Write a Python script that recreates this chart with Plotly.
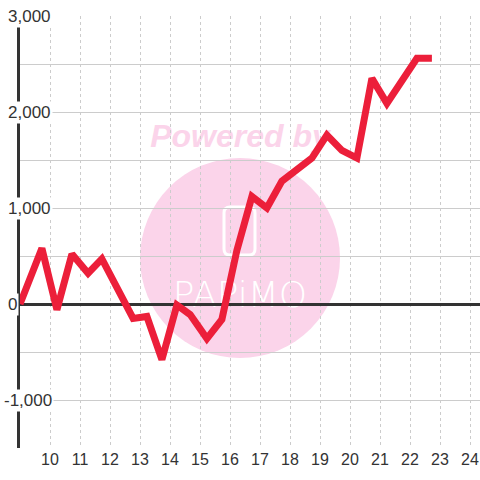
import plotly.graph_objects as go

# data
x_vals = [9.0, 9.73, 10.23, 10.73, 11.27, 11.73, 12.77, 13.23, 13.73, 14.23, 14.67,
          15.23, 15.73, 16.23, 16.73, 17.23, 17.73, 18.23, 18.73, 19.23, 19.73,
          20.23, 20.73, 21.23, 21.73, 22.23, 22.73]
y_vals = [0, 580, -60, 520, 320, 470, -150, -130, -580, -10, -110,
          -360, -160, 560, 1120, 1000, 1280, 1410, 1520, 1760, 1600,
          1520, 2350, 2090, 2320, 2560, 2560]
x_ticks = list(range(10, 25))
y_ticks = [3000, 2000, 1000, 0, -1000]
y_tick_text = ["3,000", "2,000", "1,000", "0", "-1,000"]

L, R, T, B = 20, 0, 16, 32
W = H = 480
pw, ph = W - L - R, H - T - B

def px(xp):
    return (xp - L) / pw
def py(yp):
    return (H - B - yp) / ph

fig = go.Figure()
fig.add_trace(go.Scatter(x=x_vals, y=y_vals, mode="lines",
                         line=dict(color="#ec1f3a", width=7), hoverinfo="skip"))

pink = "#fbd4ea"

# rounded phone icon outline
x0, x1, y0, y1, r = 224, 255, 207, 255, 6
pts = [
    f"M{px(x0 + r)},{py(y0)}", f"L{px(x1 - r)},{py(y0)}",
    f"Q{px(x1)},{py(y0)} {px(x1)},{py(y0 + r)}", f"L{px(x1)},{py(y1 - r)}",
    f"Q{px(x1)},{py(y1)} {px(x1 - r)},{py(y1)}", f"L{px(x0 + r)},{py(y1)}",
    f"Q{px(x0)},{py(y1)} {px(x0)},{py(y1 - r)}", f"L{px(x0)},{py(y0 + r)}",
    f"Q{px(x0)},{py(y0)} {px(x0 + r)},{py(y0)}", "Z",
]
phone_path = " ".join(pts)

shapes = [
    dict(type="circle", xref="paper", yref="paper", x0=px(140), x1=px(340),
         y0=py(358), y1=py(158), fillcolor=pink, line=dict(width=0), layer="below"),
    dict(type="path", xref="paper", yref="paper", path=phone_path,
         line=dict(color="white", width=3), fillcolor="rgba(0,0,0,0)", layer="below"),
    dict(type="rect", xref="paper", yref="paper", x0=px(140), x1=px(340),
         y0=py(150), y1=py(116), line=dict(width=0), fillcolor="rgba(0,0,0,0)",
         layer="below",
         label=dict(text="<b><i>Powered by</i></b>", textposition="middle center",
                    font=dict(family="Liberation Sans, Arial", size=32, color=pink))),
    dict(type="rect", xref="paper", yref="paper", x0=px(160), x1=px(320),
         y0=py(310), y1=py(272), line=dict(width=0), fillcolor="rgba(0,0,0,0)",
         layer="below",
         label=dict(text="PAPiMO", textposition="middle center",
                    font=dict(family="DejaVu Sans", size=36, color="white", weight=200))),
]

annotations = []
for v, t in zip(y_ticks, y_tick_text):
    annotations.append(dict(x=0, xref="paper", xshift=-14 if v >= 0 else -18, y=v, yref="y",
                            text=t, showarrow=False, xanchor="left", yanchor="middle",
                            bgcolor="white", borderpad=1,
                            font=dict(family="Liberation Sans, Arial", size=17, color="#333")))

fig.update_layout(
    width=W, height=H, margin=dict(l=L, r=R, t=T, b=B),
    paper_bgcolor="white", plot_bgcolor="rgba(0,0,0,0)",
    showlegend=False, shapes=shapes, annotations=annotations,
    xaxis=dict(range=[9, 9 + pw / 30], tickvals=x_ticks, showgrid=True,
               gridcolor="#cccccc", griddash="dot", gridwidth=1, zeroline=False,
               showline=False, ticks="",
               tickfont=dict(family="Liberation Sans, Arial", size=16, color="#333")),
    yaxis=dict(range=[-1500, 3000], tickvals=[-1500, -1000, -500, 0, 500, 1000, 1500, 2000, 2500, 3000],
               showticklabels=False, showgrid=True, gridcolor="#cccccc", gridwidth=1,
               zeroline=True, zerolinecolor="#333", zerolinewidth=3,
               showline=True, linecolor="#333", linewidth=3, ticks=""),
)

fig.write_html("out.html", config={"displayModeBar": False},
               post_script="document.body.style.margin='0';document.body.style.overflow='hidden';")
